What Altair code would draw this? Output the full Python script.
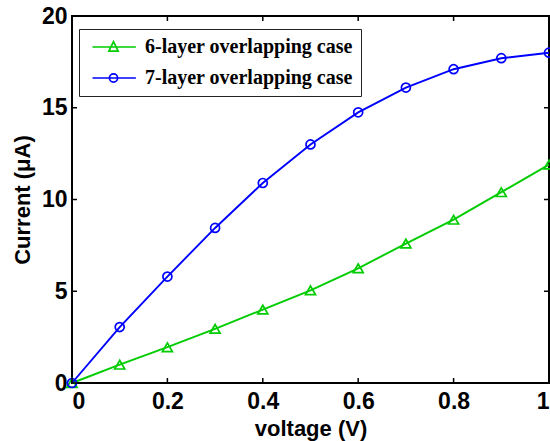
import altair as alt
import pandas as pd

# ---- data ----
voltage = [0.0, 0.1, 0.2, 0.3, 0.4, 0.5, 0.6, 0.7, 0.8, 0.9, 1.0]
current_6layer = [0.0, 1.0, 1.95, 2.95, 4.0, 5.05, 6.25, 7.6, 8.9, 10.4, 11.9]
current_7layer = [0.0, 3.05, 5.8, 8.45, 10.9, 13.0, 14.75, 16.1, 17.1, 17.7, 18.0]
series_names = ["6-layer overlapping case", "7-layer overlapping case"]
series_colors = ["#00cc00", "#0000ff"]
x_ticks = [0, 0.2, 0.4, 0.6, 0.8, 1.0]
y_ticks = [0, 5, 10, 15, 20]
x_domain = [0, 1]
y_domain = [0, 20]

rows = []
for v, c in zip(voltage, current_6layer):
    rows.append({"voltage": v, "current": c, "series": series_names[0]})
for v, c in zip(voltage, current_7layer):
    rows.append({"voltage": v, "current": c, "series": series_names[1]})
df = pd.DataFrame(rows)

W, H = 477, 367
tick_len_x = 5 / W * (x_domain[1] - x_domain[0])
tick_len_y = 5 / H * (y_domain[1] - y_domain[0])

xaxis = alt.Axis(title="voltage (V)", values=x_ticks, format="~g", tickSize=0,
                 labelPadding=7, grid=False, domain=False,
                 titleY=45, titleBaseline="middle")
yaxis = alt.Axis(title="Current (μA)", values=y_ticks, tickSize=0, labelPadding=5,
                 grid=False, domain=False, titleX=-50, titleY=H / 2,
                 titleBaseline="middle", titleAngle=270, titleAlign="center")


def X(field="voltage"):
    return alt.X(f"{field}:Q", scale=alt.Scale(domain=x_domain, nice=False, zero=False), axis=xaxis)


def Y(field="current"):
    return alt.Y(f"{field}:Q", scale=alt.Scale(domain=y_domain, nice=False, zero=False), axis=yaxis)


base = alt.Chart(df)
layers = []
shapes = ["triangle-up", "circle"]
sizes = [100, 81]
for name, col, shp, sz in zip(series_names, series_colors, shapes, sizes):
    sub = base.transform_filter(alt.datum.series == name)
    layers.append(sub.mark_line(color=col, strokeWidth=1.9).encode(x=X(), y=Y()))
    layers.append(sub.mark_point(color=col, shape=shp, size=sz, filled=False,
                                 strokeWidth=1.7, opacity=1).encode(x=X(), y=Y()))

# legend layer (no visible marks): symbols are line + marker paths
tri_path = "M-1,0H8.64M3.67,-1.18L2.64,0.9L4.70,0.9Z"
circ_path = "M-1,0H8.64M2.77,0A0.9,0.9,0,1,1,4.57,0A0.9,0.9,0,1,1,2.77,0"
legend_layer = base.transform_filter("false").mark_point(filled=False, strokeWidth=1.7, opacity=1).encode(
    x=X(), y=Y(),
    color=alt.Color("series:N", scale=alt.Scale(domain=series_names, range=series_colors),
                    legend=alt.Legend(title=None, orient="none", legendX=7, legendY=13,
                                      padding=8, fillColor="white", strokeColor="#222222",
                                      labelFont="Liberation Serif", labelFontWeight="bold",
                                      labelFontSize=20, labelColor="black", rowPadding=11,
                                      symbolSize=81, symbolStrokeWidth=1.7, labelOffset=38,
                                      labelLimit=400)),
    shape=alt.Shape("series:N", scale=alt.Scale(domain=series_names, range=[tri_path, circ_path])),
)
layers.append(legend_layer)

# inward tick marks on all four sides
bottom = pd.DataFrame({"voltage": x_ticks, "current": [y_domain[0]] * len(x_ticks),
                       "current2": [y_domain[0] + tick_len_y] * len(x_ticks)})
top = pd.DataFrame({"voltage": x_ticks, "current": [y_domain[1]] * len(x_ticks),
                    "current2": [y_domain[1] - tick_len_y] * len(x_ticks)})
left = pd.DataFrame({"current": y_ticks, "voltage": [x_domain[0]] * len(y_ticks),
                     "voltage2": [x_domain[0] + tick_len_x] * len(y_ticks)})
right = pd.DataFrame({"current": y_ticks, "voltage": [x_domain[1]] * len(y_ticks),
                      "voltage2": [x_domain[1] - tick_len_x] * len(y_ticks)})
for d in (bottom, top):
    layers.append(alt.Chart(d).mark_rule(color="black", strokeWidth=1.5).encode(
        x=X(), y=Y(), y2="current2:Q"))
for d in (left, right):
    layers.append(alt.Chart(d).mark_rule(color="black", strokeWidth=1.5).encode(
        x=X(), x2="voltage2:Q", y=Y()))

chart = alt.layer(*layers).properties(
    width=W, height=H,
    autosize=alt.AutoSizeParams(type="none"),
    padding={"left": 72, "top": 16, "right": 1, "bottom": 58},
    background="white",
).configure_view(stroke="black", strokeWidth=2).configure_axis(
    labelFont="Liberation Sans", labelFontWeight="bold", labelFontSize=23, labelColor="black",
    titleFont="Liberation Sans", titleFontWeight="bold", titleFontSize=22, titleColor="black",
)

chart.save("out.html", embed_options={"renderer": "svg", "actions": False})
